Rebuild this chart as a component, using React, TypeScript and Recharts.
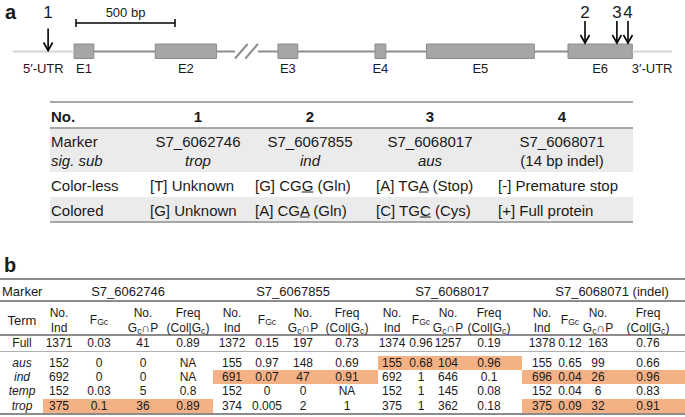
import React from 'react';
import { ComposedChart, XAxis, YAxis, ReferenceArea, ReferenceLine, Scatter } from 'recharts';

// gene model, bp from start of E1 (not to scale past the break)
const exonNames = ['E1', 'E2', 'E3', 'E4', 'E5', 'E6'];
const exonStart = [0, 410, 1030, 1520, 1780, 2495];
const exonEnd = [100, 720, 1130, 1575, 2325, 2820];
const utr5 = [-310, 0];
const utr3 = [2820, 3020];
const breakAt = [813, 929];
const scaleBar = [10, 510];
const siteIds = ['1', '2', '3', '4'];
const sitePos = [-131, 2581, 2742, 2798];

// panel a table
const siteMarker = ['S7_6062746', 'S7_6067855', 'S7_6068017', 'S7_6068071'];
const sigSub = ['trop', 'ind', 'aus', '(14 bp indel)'];
const colorless = [['[T] Unknown', '', ''], ['[G] CG', 'G', ' (Gln)'], ['[A] TG', 'A', ' (Stop)'], ['[-] Premature stop', '', '']];
const colored = [['[G] Unknown', '', ''], ['[A] CG', 'A', ' (Gln)'], ['[C] TG', 'C', ' (Cys)'], ['[+] Full protein', '', '']];

// panel b table
const terms = ['Full', 'aus', 'ind', 'temp', 'trop'];
const markers = ['S7_6062746', 'S7_6067855', 'S7_6068017', 'S7_6068071 (indel)'];
const noInd = [[1371, 152, 692, 152, 375], [1372, 155, 691, 152, 374], [1374, 155, 692, 152, 375], [1378, 155, 696, 152, 375]];
const fGc = [['0.03', '0', '0', '0.03', '0.1'], ['0.15', '0.97', '0.07', '0', '0.005'], ['0.96', '0.68', '1', '1', '1'], ['0.12', '0.65', '0.04', '0.04', '0.09']];
const gcP = [[41, 0, 0, 5, 36], [197, 148, 47, 0, 2], [1257, 104, 646, 145, 362], [163, 99, 26, 6, 32]];
const freq = [['0.89', 'NA', 'NA', '0.8', '0.89'], ['0.73', '0.69', '0.91', 'NA', '1'], ['0.19', '0.96', '0.1', '0.08', '0.18'], ['0.76', '0.66', '0.96', '0.83', '0.91']];
const significant = [['trop'], ['ind'], ['aus'], ['ind', 'trop']];

const FONT = '"Liberation Sans", Arial, Helvetica, sans-serif';
const INK = '#1a1a1a';
const RULE = '#8c8c8c';
const SHADE = '#ebebeb';
const HILITE = '#f4b186';

// gene track layout (px)
const LINE_Y = 51.5;
const EXON_TOP = 44;
const EXON_BOT = 58.5;

function Txt({ x, y, align = 'center', size = 13, bold = false, italic = false, children }: any) {
  return (
    <div
      style={{
        position: 'absolute',
        left: x,
        top: y,
        transform: align === 'center' ? 'translate(-50%,-50%)' : 'translate(0,-50%)',
        fontSize: size,
        lineHeight: 1,
        fontWeight: bold ? 700 : 400,
        fontStyle: italic ? 'italic' : 'normal',
        whiteSpace: 'nowrap',
        color: INK,
      }}
    >
      {children}
    </div>
  );
}

function Rule({ x1, x2, y, w = 1, c = RULE }: any) {
  return <div style={{ position: 'absolute', left: x1, width: x2 - x1, top: y - w / 2, height: w, background: c }} />;
}

function Box({ x1, x2, y1, y2, c }: any) {
  return <div style={{ position: 'absolute', left: x1, width: x2 - x1, top: y1, height: y2 - y1, background: c }} />;
}

const Sub = ({ children, top = '0.28em' }: any) => (
  <span style={{ fontSize: '0.72em', position: 'relative', top }}>{children}</span>
);

const Arrow = (p: any) => {
  const { cx, cy } = p;
  return (
    <g>
      <line x1={cx} y1={cy - 23} x2={cx} y2={cy - 1} stroke="#000" strokeWidth={1.6} />
      <polyline points={`${cx - 4.5},${cy - 9} ${cx},${cy - 1} ${cx + 4.5},${cy - 9}`} fill="none" stroke="#000" strokeWidth={1.6} />
    </g>
  );
};

const label = (size: number) => (p: any) => (
  <text x={p.cx} y={p.cy} textAnchor="middle" dominantBaseline="central" fontSize={size} fill={INK} fontFamily={FONT}>
    {p.payload.label}
  </text>
);

function GeneModel() {
  const inExon = (x: number) => exonStart.some((s, i) => x >= s && x <= exonEnd[i]);
  const arrows = sitePos.map((x) => ({ x, y: inExon(x) ? EXON_TOP : LINE_Y }));
  const siteLabels = sitePos.map((x, i) => ({ x, y: 12, label: siteIds[i] }));
  const exonLabels = exonNames.map((n, i) => ({ x: (exonStart[i] + exonEnd[i]) / 2, y: 68, label: n }));
  const utrLabels = [
    { x: (utr5[0] + utr5[1]) / 2, y: 68, label: '5′-UTR' },
    { x: (utr3[0] + utr3[1]) / 2, y: 68, label: '3′-UTR' },
  ];
  const barLabel = [{ x: (scaleBar[0] + scaleBar[1]) / 2, y: 12, label: `${scaleBar[1] - scaleBar[0]} bp` }];

  // intron segments between exons, cut at the break
  const introns: number[][] = [];
  for (let i = 0; i < exonStart.length - 1; i++) {
    const a = exonEnd[i];
    const b = exonStart[i + 1];
    if (a < breakAt[0] && b > breakAt[1]) {
      introns.push([a, breakAt[0]], [breakAt[1], b]);
    } else introns.push([a, b]);
  }
  const slashW = (breakAt[1] - breakAt[0]) * 0.55;

  return (
    <ComposedChart width={685} height={90} margin={{ top: 0, right: 0, bottom: 0, left: 0 }}>
      <XAxis type="number" dataKey="x" domain={[-374, 3086]} hide />
      <YAxis type="number" dataKey="y" domain={[0, 90]} reversed hide />
      <ReferenceLine segment={[{ x: utr5[0], y: LINE_Y }, { x: utr5[1], y: LINE_Y }]} stroke="#d6d6d6" strokeWidth={2} />
      <ReferenceLine segment={[{ x: utr3[0], y: LINE_Y }, { x: utr3[1], y: LINE_Y }]} stroke="#d6d6d6" strokeWidth={2} />
      {introns.map(([a, b], i) => (
        <ReferenceLine key={'in' + i} segment={[{ x: a, y: LINE_Y }, { x: b, y: LINE_Y }]} stroke={RULE} strokeWidth={2} />
      ))}
      <ReferenceLine segment={[{ x: breakAt[0], y: EXON_BOT }, { x: breakAt[0] + slashW, y: EXON_TOP }]} stroke={RULE} strokeWidth={2} />
      <ReferenceLine segment={[{ x: breakAt[1] - slashW, y: EXON_BOT }, { x: breakAt[1], y: EXON_TOP }]} stroke={RULE} strokeWidth={2} />
      {exonNames.map((n, i) => (
        <ReferenceArea key={n} x1={exonStart[i]} x2={exonEnd[i]} y1={EXON_TOP} y2={EXON_BOT} fill="#a6a6a6" fillOpacity={1} stroke="#8c8c8c" strokeWidth={1} />
      ))}
      <ReferenceLine segment={[{ x: scaleBar[0], y: 23 }, { x: scaleBar[1], y: 23 }]} stroke="#000" strokeWidth={1.5} />
      <ReferenceLine segment={[{ x: scaleBar[0], y: 19 }, { x: scaleBar[0], y: 27 }]} stroke="#000" strokeWidth={1.5} />
      <ReferenceLine segment={[{ x: scaleBar[1], y: 19 }, { x: scaleBar[1], y: 27 }]} stroke="#000" strokeWidth={1.5} />
      <Scatter data={arrows} shape={Arrow} isAnimationActive={false} />
      <Scatter data={siteLabels} shape={label(17)} isAnimationActive={false} />
      <Scatter data={exonLabels} shape={label(13)} isAnimationActive={false} />
      <Scatter data={utrLabels} shape={label(13)} isAnimationActive={false} />
      <Scatter data={barLabel} shape={label(13)} isAnimationActive={false} />
    </ComposedChart>
  );
}

function TableA() {
  const colX = [198, 310, 430, 562];
  const leftX = [150, 255, 376, 498];
  const X1 = 50;
  const X2 = 633;
  const fs = 15;
  const cell = (c: string[]) => (
    <>
      {c[0]}
      {c[1] && <u>{c[1]}</u>}
      {c[2]}
    </>
  );
  return (
    <>
      <Box x1={X1} x2={X2} y1={128} y2={172} c={SHADE} />
      <Box x1={X1} x2={X2} y1={197} y2={222} c={SHADE} />
      <Rule x1={X1} x2={X2} y={102} w={1.5} c="#a8a8a8" />
      <Rule x1={X1} x2={X2} y={128} w={1.5} c="#a8a8a8" />
      <Rule x1={X1} x2={X2} y={222} w={1.5} c="#a8a8a8" />
      <Txt x={51} y={116} align="left" size={fs} bold>No.</Txt>
      {siteIds.map((s, i) => (
        <Txt key={s} x={colX[i]} y={116} size={fs} bold>{s}</Txt>
      ))}
      <Txt x={51} y={141} align="left" size={fs}>Marker</Txt>
      <Txt x={51} y={160} align="left" size={fs} italic>sig. sub</Txt>
      {siteMarker.map((m, i) => (
        <React.Fragment key={m}>
          <Txt x={colX[i]} y={141} size={fs}>{m}</Txt>
          <Txt x={colX[i]} y={160} size={fs} italic={!sigSub[i].startsWith('(')}>{sigSub[i]}</Txt>
          <Txt x={leftX[i]} y={185} align="left" size={fs}>{cell(colorless[i])}</Txt>
          <Txt x={leftX[i]} y={210} align="left" size={fs}>{cell(colored[i])}</Txt>
        </React.Fragment>
      ))}
      <Txt x={51} y={185} align="left" size={fs}>Color-less</Txt>
      <Txt x={51} y={210} align="left" size={fs}>Colored</Txt>
    </>
  );
}

function TableB() {
  const colX = [[59, 99, 143, 188], [232, 267, 303, 347], [392, 421, 448, 489], [542, 570, 598, 648]];
  const groupX = [128, 293, 452, 612];
  const span = [[43, 213], [213, 378], [378, 522], [522, 685]];
  const rowY = [343, 363, 377, 391, 406];
  const fs = 12;
  const F = () => (
    <>
      F<Sub top="0.12em">Gc</Sub>
    </>
  );
  const G = () => (
    <>
      G<Sub>c</Sub>
    </>
  );
  return (
    <>
      {markers.map((m, g) =>
        significant[g].map((t) => {
          const r = terms.indexOf(t);
          return <Box key={m + t} x1={span[g][0]} x2={span[g][1]} y1={rowY[r] - 7} y2={rowY[r] + 7} c={HILITE} />;
        })
      )}
      <Rule x1={0} x2={685} y={279} w={2} />
      <Rule x1={0} x2={685} y={301} w={1.5} />
      <Rule x1={0} x2={685} y={335} w={1.2} />
      <Rule x1={0} x2={685} y={351} w={1} c="#b0b0b0" />
      <Rule x1={0} x2={685} y={414} w={2} />
      <Txt x={2} y={291} align="left" size={13}>Marker</Txt>
      <Txt x={22} y={320} size={13}>Term</Txt>
      {markers.map((m, g) => (
        <React.Fragment key={m}>
          <Txt x={groupX[g]} y={291} size={13}>{m}</Txt>
          <Txt x={colX[g][0]} y={313} size={fs}>No.</Txt>
          <Txt x={colX[g][0]} y={328} size={fs}>Ind</Txt>
          <Txt x={colX[g][1]} y={320} size={fs}><F /></Txt>
          <Txt x={colX[g][2]} y={313} size={fs}>No.</Txt>
          <Txt x={colX[g][2]} y={328} size={fs}><G />∩P</Txt>
          <Txt x={colX[g][3]} y={313} size={fs}>Freq</Txt>
          <Txt x={colX[g][3]} y={328} size={fs}>(Col|<G />)</Txt>
          {terms.map((t, r) => (
            <React.Fragment key={t}>
              <Txt x={colX[g][0]} y={rowY[r]} size={fs}>{noInd[g][r]}</Txt>
              <Txt x={colX[g][1]} y={rowY[r]} size={fs}>{fGc[g][r]}</Txt>
              <Txt x={colX[g][2]} y={rowY[r]} size={fs}>{gcP[g][r]}</Txt>
              <Txt x={colX[g][3]} y={rowY[r]} size={fs}>{freq[g][r]}</Txt>
            </React.Fragment>
          ))}
        </React.Fragment>
      ))}
      {terms.map((t, r) => (
        <Txt key={t} x={22} y={rowY[r]} size={fs} italic={r > 0}>{t}</Txt>
      ))}
    </>
  );
}

export default function App() {
  return (
    <div style={{ position: 'relative', width: 685, height: 417, background: '#fff', fontFamily: FONT, overflow: 'hidden' }}>
      <style>{'body{margin:0}'}</style>
      <div style={{ position: 'absolute', left: 0, top: 0 }}>
        <GeneModel />
      </div>
      <Txt x={5} y={12} align="left" size={20} bold>a</Txt>
      <TableA />
      <Txt x={4} y={265} align="left" size={20} bold>b</Txt>
      <TableB />
    </div>
  );
}
